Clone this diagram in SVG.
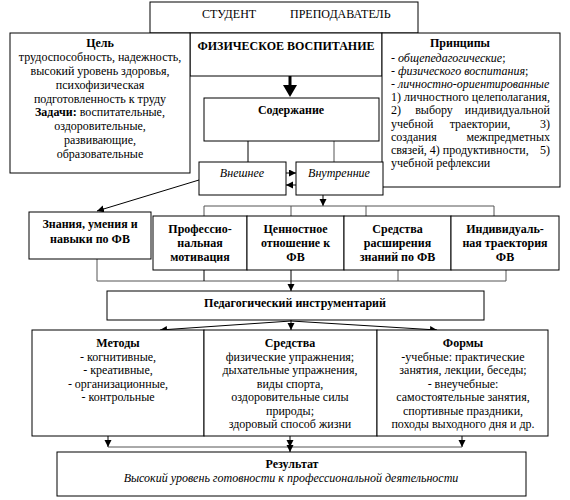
<svg xmlns="http://www.w3.org/2000/svg" width="570" height="500" viewBox="0 0 570 500">
<defs>
<style>
text{font-family:"Liberation Serif","Times New Roman",serif;font-size:12px;fill:#000}
.b{font-weight:bold}
.i{font-style:italic}
.c{text-anchor:middle}
.e{text-anchor:end}
rect{fill:#fff;stroke:#000;stroke-width:1}
.ln{fill:none;stroke:#000;stroke-width:1}
.g{stroke:#555}
.ar{marker-end:url(#ah)}
</style>
<marker id="ah" markerUnits="userSpaceOnUse" markerWidth="8" markerHeight="8" refX="7" refY="3.5" orient="auto">
<path d="M0,0 L7,3.5 L0,7 z" fill="#000"/>
</marker>
</defs>
<rect x="0" y="0" width="570" height="500" style="fill:#fff;stroke:none"/>

<g id="connectors">
<line class="ln" x1="290" y1="76" x2="290" y2="86" style="stroke-width:3"/>
<polygon points="283,85 297,85 290,97" fill="#000"/>
<line class="ln" x1="248" y1="141" x2="248" y2="162"/>
<line class="ln g" x1="334" y1="141" x2="334" y2="162"/>
<line class="ln ar" x1="286" y1="173" x2="296" y2="173"/>
<line class="ln ar" x1="296" y1="185" x2="286" y2="185"/>
<line class="ln ar" x1="199" y1="180" x2="97" y2="211"/>
<line class="ln ar" x1="323" y1="195" x2="323" y2="206"/>
<polyline class="ln g" points="204,216 204,206 494,206 494,216"/>
<line class="ln g" x1="291" y1="206" x2="291" y2="216"/>
<line class="ln g" x1="366" y1="206" x2="366" y2="216"/>
<polyline class="ln g" points="97,259 97,281 506,281 506,270"/>
<line class="ln" x1="204" y1="270" x2="204" y2="281"/>
<line class="ln g" x1="398" y1="270" x2="398" y2="281"/>
<line class="ln ar" x1="291" y1="270" x2="291" y2="291"/>
<line class="ln ar" x1="291" y1="320" x2="291" y2="330"/>
<line class="ln ar" x1="291" y1="321" x2="160" y2="330"/>
<line class="ln ar" x1="291" y1="321" x2="437" y2="330"/>
<line class="ln ar" x1="108" y1="436" x2="108" y2="447"/>
<line class="ln ar" x1="290" y1="436" x2="290" y2="447"/>
<line class="ln ar" x1="462" y1="436" x2="462" y2="447"/>
<line class="ln g" x1="108" y1="447" x2="462" y2="447"/>
<line class="ln ar" x1="290" y1="447" x2="290" y2="452"/>
</g>

<g id="top">
<rect x="150" y="2" width="268" height="31"/>
<text x="202" y="18">СТУДЕНТ</text>
<text x="290" y="18">ПРЕПОДАВАТЕЛЬ</text>
</g>

<g id="fv">
<rect x="190" y="33" width="192" height="43"/>
<text class="b c" x="286" y="50">ФИЗИЧЕСКОЕ ВОСПИТАНИЕ</text>
</g>

<g id="goal">
<rect x="10" y="33" width="180" height="140"/>
<text class="c b" x="100" y="47">Цель</text>
<text class="c" x="100" y="61">трудоспособность, надежность,</text>
<text class="c" x="100" y="75">высокий уровень здоровья,</text>
<text class="c" x="100" y="89">психофизическая</text>
<text class="c" x="100" y="102.5">подготовленность к труду</text>
<text class="c" x="100" y="116"><tspan class="b">Задачи:</tspan> воспитательные,</text>
<text class="c" x="100" y="130">оздоровительные,</text>
<text class="c" x="100" y="144">развивающие,</text>
<text class="c" x="100" y="158">образовательные</text>
</g>

<g id="principles">
<rect x="382" y="33" width="178" height="154"/>
<text class="c b" x="460" y="47">Принципы</text>
<text x="391" y="62">- <tspan class="i">общепедагогические</tspan>;</text>
<text x="391" y="75">- <tspan class="i">физического воспитания</tspan>;</text>
<text x="391" y="88">- <tspan class="i">личностно-ориентированные</tspan></text>
<text x="391" y="101">1) личностного целеполагания,</text>
<text x="391" y="114">2)</text>
<text class="c" x="434" y="114">выбору</text>
<text class="e" x="550" y="114">индивидуальной</text>
<text x="391" y="127.5">учебной</text>
<text class="c" x="480" y="127.5">траектории,</text>
<text class="e" x="550" y="127.5">3)</text>
<text x="391" y="141">создания</text>
<text class="e" x="550" y="141">межпредметных</text>
<text x="391" y="154">связей, 4) продуктивности,</text>
<text class="e" x="550" y="154">5)</text>
<text x="391" y="167">учебной рефлексии</text>
</g>

<g id="content">
<rect x="204" y="98" width="175" height="43"/>
<text class="c b" x="291" y="114">Содержание</text>
</g>

<g id="external">
<rect x="199" y="162" width="87" height="33"/>
<text class="c i" x="242" y="177">Внешнее</text>
</g>

<g id="internal">
<rect x="296" y="162" width="87" height="33"/>
<text class="c i" x="339" y="177">Внутренние</text>
</g>

<g id="knowledge">
<rect x="29" y="212" width="122" height="47"/>
<text class="c b" x="90" y="228">Знания, умения и</text>
<text class="c b" x="90" y="243">навыки по ФВ</text>
</g>

<g id="motivation">
<rect x="153" y="216" width="94" height="54"/>
<text class="c b" x="200" y="233">Профессио-</text>
<text class="c b" x="200" y="247">нальная</text>
<text class="c b" x="200" y="261">мотивация</text>
</g>

<g id="value">
<rect x="247" y="216" width="97" height="54"/>
<text class="c b" x="295.5" y="233">Ценностное</text>
<text class="c b" x="295.5" y="247">отношение к</text>
<text class="c b" x="295.5" y="261">ФВ</text>
</g>

<g id="means-knowledge">
<rect x="344" y="216" width="107" height="54"/>
<text class="c b" x="397.5" y="233">Средства</text>
<text class="c b" x="397.5" y="247">расширения</text>
<text class="c b" x="397.5" y="261">знаний по ФВ</text>
</g>

<g id="trajectory">
<rect x="451" y="216" width="108" height="54"/>
<text class="c b" x="505" y="233">Индивидуаль-</text>
<text class="c b" x="505" y="247">ная траектория</text>
<text class="c b" x="505" y="261">ФВ</text>
</g>

<g id="toolkit">
<rect x="107" y="291" width="377" height="29"/>
<text class="c b" x="295" y="307">Педагогический инструментарий</text>
</g>

<g id="methods">
<rect x="32" y="330" width="172" height="106"/>
<text class="c b" x="118" y="347">Методы</text>
<text class="c" x="118" y="360.5">- когнитивные,</text>
<text class="c" x="118" y="374">- креативные,</text>
<text class="c" x="118" y="387.5">- организационные,</text>
<text class="c" x="118" y="401">- контрольные</text>
</g>

<g id="means">
<rect x="204" y="330" width="173" height="106"/>
<text class="c b" x="290" y="347">Средства</text>
<text class="c" x="290" y="360.5">физические упражнения;</text>
<text class="c" x="290" y="374">дыхательные упражнения,</text>
<text class="c" x="290" y="387.5">виды спорта,</text>
<text class="c" x="290" y="401">оздоровительные силы</text>
<text class="c" x="290" y="414.5">природы;</text>
<text class="c" x="290" y="428">здоровый способ жизни</text>
</g>

<g id="forms">
<rect x="377" y="330" width="171" height="106"/>
<text class="c b" x="463" y="347">Формы</text>
<text class="c" x="463" y="360.5">-учебные: практические</text>
<text class="c" x="463" y="374">занятия, лекции, беседы;</text>
<text class="c" x="463" y="387.5">- внеучебные:</text>
<text class="c" x="463" y="401">самостоятельные занятия,</text>
<text class="c" x="463" y="414.5">спортивные праздники,</text>
<text class="c" x="463" y="428">походы выходного дня и др.</text>
</g>

<g id="result">
<rect x="57" y="452" width="469" height="44"/>
<text class="c b" x="292" y="468">Результат</text>
<text class="c i" x="291" y="482">Высокий уровень готовности к профессиональной деятельности</text>
</g>
</svg>
